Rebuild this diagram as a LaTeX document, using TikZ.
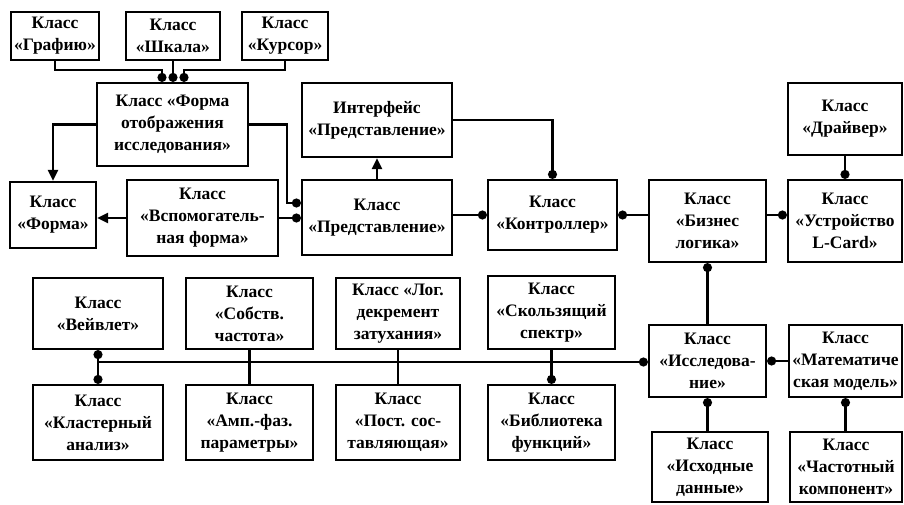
\documentclass[tikz,border=0pt]{standalone}
\usepackage{fontspec}
\setmainfont{Liberation Serif}
\usetikzlibrary{arrows.meta}
\tikzset{
  box/.style={draw, line width=2.2pt, align=center, inner sep=0pt,
    font=\bfseries\fontsize{17.5}{22}\selectfont},
  conn/.style={line width=2.2pt},
  dotend/.style={conn, -{Circle[length=9pt]}},
  dotstart/.style={conn, {Circle[length=9pt]}-},
  dotboth/.style={conn, {Circle[length=9pt]}-{Circle[length=9pt]}},
  triend/.style={conn, -{Triangle[length=11pt,width=10pt]}},
}
\begin{document}
\begin{tikzpicture}[x=1pt,y=-1pt]
\fill[white] (0,0) rectangle (904,504);
\useasboundingbox (0,0) rectangle (904,504);
% top row
\node[box, minimum width=88pt, minimum height=48pt] (graf) at (55,36) {Класс\\«Графию»};
\node[box, minimum width=94pt, minimum height=48pt] (shkala) at (173,36) {Класс\\«Шкала»};
\node[box, minimum width=86pt, minimum height=48pt] (kursor) at (285,36) {Класс\\«Курсор»};
\node[box, minimum width=151pt, minimum height=83pt] (fotobr) at (172.5,124.5) {Класс «Форма\\отображения\\исследования»};
\node[box, minimum width=150pt, minimum height=74pt] (interf) at (377,120) {Интерфейс\\«Представление»};
\node[box, minimum width=114pt, minimum height=72pt] (drv) at (845,119) {Класс\\«Драйвер»};
% middle row
\node[box, minimum width=86pt, minimum height=66pt] (forma) at (53,215) {Класс\\«Форма»};
\node[box, minimum width=151pt, minimum height=76pt] (vspom) at (202.5,218) {Класс\\«Вспомогатель-\\ная форма»};
\node[box, minimum width=150pt, minimum height=75pt] (predst) at (377,217.5) {Класс\\«Представление»};
\node[box, minimum width=129pt, minimum height=70pt] (kontr) at (552.5,215) {Класс\\«Контроллер»};
\node[box, minimum width=117pt, minimum height=82pt] (biznes) at (707.5,221) {Класс\\«Бизнес\\логика»};
\node[box, minimum width=114pt, minimum height=82pt] (ustr) at (845,221) {Класс\\«Устройство\\L-Card»};
% lower rows
\node[box, minimum width=130pt, minimum height=71pt] (veiv) at (98,313.5) {Класс\\«Вейвлет»};
\node[box, minimum width=127pt, minimum height=71pt] (sobstv) at (249.5,313.5) {Класс\\«Собств.\\частота»};
\node[box, minimum width=124pt, minimum height=71pt] (logd) at (398,313.5) {Класс «Лог.\\декремент\\затухания»};
\node[box, minimum width=127pt, minimum height=73pt] (skolz) at (551.5,312.5) {Класс\\«Скользящий\\спектр»};
\node[box, minimum width=117pt, minimum height=72pt] (issl) at (707.5,361) {Класс\\«Исследова-\\ние»};
\node[box, minimum width=113pt, minimum height=72pt] (matem) at (845.5,361) {Класс\\«Математиче\\ская модель»};
\node[box, minimum width=130pt, minimum height=75pt] (klast) at (98,422.5) {Класс\\«Кластерный\\анализ»};
\node[box, minimum width=127pt, minimum height=75pt] (amp) at (249.5,422.5) {Класс\\«Амп.-фаз.\\параметры»};
\node[box, minimum width=124pt, minimum height=75pt] (post) at (398,422.5) {Класс\\«Пост. сос-\\тавляющая»};
\node[box, minimum width=127pt, minimum height=75pt] (bibl) at (551.5,422.5) {Класс\\«Библиотека\\функций»};
\node[box, minimum width=116pt, minimum height=70pt] (ishod) at (710,467) {Класс\\«Исходные\\данные»};
\node[box, minimum width=112pt, minimum height=70pt] (chast) at (846,467) {Класс\\«Частотный\\компонент»};
% junction coordinates
\coordinate (j1) at (162,70);
\coordinate (j3) at (184,70);
\coordinate (j4) at (287,203);
\coordinate (bus) at (98,362);
% connectors top
\draw[dotend] (graf.south) |- (j1) -- (j1 |- fotobr.north);
\draw[dotend] (shkala.south) -- (shkala.south |- fotobr.north);
\draw[dotend] (kursor.south) |- (j3) -- (j3 |- fotobr.north);
\draw[triend] (fotobr.west) -| (forma.north);
\draw[dotend] (fotobr.east) -| (j4) -- (j4 -| predst.west);
\draw[triend] (vspom.west) -- (vspom.west -| forma.east);
\draw[dotend] (vspom.east) -- (vspom.east -| predst.west);
\draw[triend] (predst.north) -- (interf.south);
\draw[dotend] (interf.east) -| (kontr.north);
\draw[dotend] (predst.east |- kontr.east) -- (kontr.west);
\draw[dotstart] (kontr.east) -- (kontr.east -| biznes.west);
\draw[dotend] (biznes.east |- kontr.east) -- (ustr.west |- kontr.east);
\draw[dotend] (drv.south) -- (ustr.north);
\draw[dotstart] (biznes.south) -- (biznes.south |- issl.north);
% connectors lower
\draw[dotboth] (veiv.south) -- (klast.north);
\draw[conn] (sobstv.south) -- (amp.north);
\draw[conn] (logd.south) -- (post.north);
\draw[dotend] (skolz.south) -- (bibl.north);
\draw[dotend] (bus) -- (bus -| issl.west);
\draw[dotstart] (issl.east) -- (matem.west);
\draw[dotstart] (issl.south) -- (issl.south |- ishod.north);
\draw[dotstart] (matem.south) -- (matem.south |- chast.north);
\end{tikzpicture}
\end{document}
